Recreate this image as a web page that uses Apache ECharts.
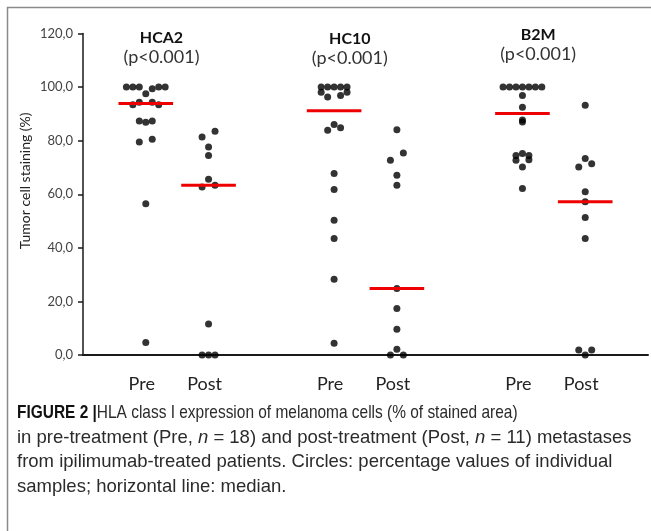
<!DOCTYPE html>
<html>
<head>
<meta charset="utf-8">
<script src="https://cdn.jsdelivr.net/npm/echarts@6/dist/echarts.min.js"></script>
<style>
  html, body { margin: 0; padding: 0; background: #fff; }
  #chart { width: 651px; height: 531px; }
</style>
</head>
<body>
<div id="chart"></div>
<script>
// Markers and groups
const markers = ['HCA2', 'HC10', 'B2M'];
const pLabels = ['(p<0.001)', '(p<0.001)', '(p<0.001)'];
const phases = ['Pre', 'Post'];
const yTickValues = [0, 20, 40, 60, 80, 100, 120];

// Staining (%) per sample, with the horizontal lane (x offset in lane units) of each dot
const hca2Pre     = [100, 100, 100, 99.4, 100, 100, 97.5, 93.4, 94.3, 94.3, 93.4, 87.3, 86.9, 87.3, 79.5, 80.5, 56.5, 4.7];
const hca2PreLane = [ -3,  -2,  -1,    1,   2,   3,    0,   -2,   -1,    1,    2,   -1,    0,    1,   -1,    1,    0,   0];
const hca2Post     = [83.5, 81.4, 77.6, 74.5, 65.6, 62.7, 63.4, 11.6, 0, 0, 0];
const hca2PostLane = [   1,   -1,    0,    0,    0,   -1,    1,    0, -1, 0, 1];

const hc10Pre     = [100, 100, 100, 100, 100, 98.1, 96.3, 96.9, 98.1, 83.9, 86, 84.8, 67.7, 61.8, 50.3, 43.5, 28.3, 4.4];
const hc10PreLane = [ -2,  -1,   0,   1,   2,   -2,   -1,    1,    2,   -1,  0,    1,    0,    0,    0,    0,    0,   0];
const hc10Post     = [84.1, 75.4, 72.7, 67.1, 63.4, 24.8, 17.4, 9.6, 2.1, 0, 0];
const hc10PostLane = [   0,    1,   -1,    0,    0,    0,    0,   0,   0, -1, 1];

const b2mPre     = [100, 100, 100, 100, 100, 100, 100, 96.9, 92.5, 87.7, 87.0, 74.5, 75.2, 74.5, 72.7, 72.9, 70.2, 62.1];
const b2mPreLane = [ -3,  -2,  -1,   0,   1,   2,   3,    0,    0,    0,    0,   -1,    0,    1,   -1,    1,    0,    0];
const b2mPost     = [93.2, 73.3, 71.4, 70.2, 60.9, 57.2, 51.3, 43.5, 1.9, 0, 1.9];
const b2mPostLane = [   0,    0,    1,   -1,    0,    0,    0,    0,  -1, 0,   1];

const groups = [
  { pre: hca2Pre, preLane: hca2PreLane, post: hca2Post, postLane: hca2PostLane },
  { pre: hc10Pre, preLane: hc10PreLane, post: hc10Post, postLane: hc10PostLane },
  { pre: b2mPre,  preLane: b2mPreLane,  post: b2mPost,  postLane: b2mPostLane }
];

// Layout on the x value axis: each marker takes three slots (Pre, Post, gap)
const LANE_STEP = 0.103;
const MEDIAN_HALF = 0.435;
const slotOf = (g, p) => g * 3 + p;

function median(arr) {
  const s = arr.slice().sort((a, b) => a - b);
  const m = Math.floor(s.length / 2);
  return s.length % 2 ? s[m] : (s[m - 1] + s[m]) / 2;
}

const slotLabels = {};
markers.forEach((_, g) => phases.forEach((ph, p) => { slotLabels[slotOf(g, p)] = ph; }));

const series = [];
groups.forEach((grp, g) => {
  [[grp.pre, grp.preLane], [grp.post, grp.postLane]].forEach(([vals, lanes], p) => {
    const cx = slotOf(g, p);
    series.push({
      type: 'scatter',
      symbol: 'circle',
      symbolSize: 7,
      itemStyle: { color: '#000' },
      z: 3,
      silent: true,
      data: vals.map((v, i) => [cx + lanes[i] * LANE_STEP, v])
    });
    const m = median(vals);
    series.push({
      type: 'line',
      symbol: 'none',
      silent: true,
      z: 5,
      lineStyle: { color: '#ee0000', width: 3 },
      data: [[cx - MEDIAN_HALF, m], [cx + MEDIAN_HALF, m]]
    });
  });
});

const chart = echarts.init(document.getElementById('chart'), null, { renderer: 'canvas' });
const FONT = 'Lato';

chart.setOption({
  animation: false,
  backgroundColor: '#fff',
  grid: { left: 83, right: 0, top: 33.5, bottom: 176, containLabel: false },
  xAxis: {
    type: 'value',
    min: -1, max: 8, interval: 1,
    splitLine: { show: false },
    axisTick: { show: false },
    axisLine: { show: true, onZero: false, lineStyle: { color: '#1a1a1a', width: 2 } },
    axisLabel: {
      show: true,
      margin: 20,
      padding: [0, 8, 0, 0],
      fontFamily: FONT, fontSize: 18, color: '#222',
      formatter: v => slotLabels[v] || ''
    }
  },
  yAxis: {
    type: 'value',
    min: 0, max: 120, interval: 20,
    splitLine: { show: false },
    axisLine: { show: true, onZero: false, lineStyle: { color: '#1a1a1a', width: 1.5 } },
    axisTick: { show: true, inside: false, length: 5, lineStyle: { color: '#1a1a1a', width: 1.5 } },
    axisLabel: {
      margin: 10,
      fontFamily: FONT, fontSize: 13, color: '#444',
      formatter: v => yTickValues.includes(v) ? v.toFixed(1).replace('.', ',') : ''
    }
  },
  series: series,
  graphic: [
    {
      type: 'rect', silent: true, z: -1,
      shape: { x: 7.5, y: 7.5, width: 720, height: 620 },
      style: { fill: 'none', stroke: '#8a8a8a', lineWidth: 1.5 }
    }
  ]
});

const extraGraphics = [];

// Y axis title, rotated, centred on the 65 % level
const yNameY = chart.convertToPixel({ gridIndex: 0 }, [0, 65])[1];
extraGraphics.push({
  type: 'text', silent: true,
  x: 25, y: yNameY, rotation: Math.PI / 2,
  style: { text: 'Tumor cell staining (%)', x: 0, y: 0, align: 'center', verticalAlign: 'middle',
           font: `14px ${FONT}`, fill: '#222' }
});

// Marker titles placed through the axis scale
markers.forEach((name, g) => {
  const x = chart.convertToPixel({ gridIndex: 0 }, [slotOf(g, 0) + 0.25, 0])[0];
  const dy = g === 2 ? -3 : (g === 1 ? 1 : 0);
  extraGraphics.push({
    type: 'text', silent: true,
    style: { text: name, x: x, y: 38 + dy, align: 'center', verticalAlign: 'middle',
             font: `bold 16px ${FONT}`, fill: '#111' }
  });
  extraGraphics.push({
    type: 'text', silent: true,
    style: { text: pLabels[g], x: x, y: 57 + dy, align: 'center', verticalAlign: 'middle',
             font: `18px ${FONT}`, fill: '#333' }
  });
});

// Figure caption
const CAP = 'Liberation Sans';
const CAP_SIZE = 18.5;
const capLines = [
  '{b|FIGURE 2 |}HLA class I expression of melanoma cells (% of stained area)',
  'in pre-treatment (Pre, {i|n} = 18) and post-treatment (Post, {i|n} = 11) metastases',
  'from ipilimumab-treated patients. Circles: percentage values of individual',
  'samples; horizontal line: median.'
];
// the first line is set tighter than the rest
const capScaleX = [0.835, 1, 1, 1];
capLines.forEach((t, i) => {
  extraGraphics.push({
    type: 'text', silent: true,
    x: 17, y: 413 + i * 24.5,
    scaleX: capScaleX[i],
    style: {
      text: t, x: 0, y: 0, verticalAlign: 'middle',
      font: `${CAP_SIZE}px ${CAP}`, fill: '#2b2b2b',
      rich: {
        b: { fontFamily: CAP, fontSize: CAP_SIZE, fontWeight: 'bold', fill: '#111' },
        i: { fontFamily: CAP, fontSize: CAP_SIZE, fontStyle: 'italic', fill: '#2b2b2b' }
      }
    }
  });
});

chart.setOption({ graphic: extraGraphics.map((g, i) => Object.assign({ id: 't' + i }, g)) });
</script>
</body>
</html>
